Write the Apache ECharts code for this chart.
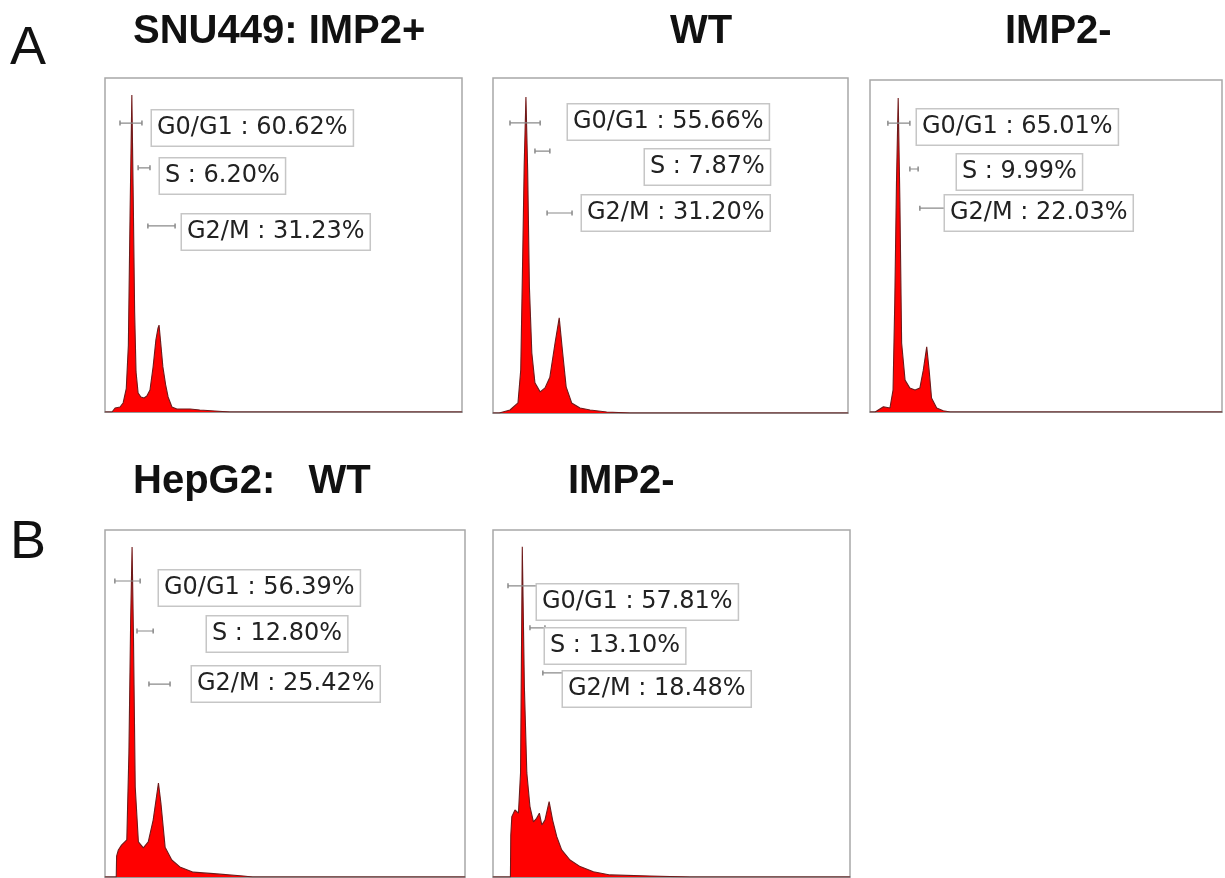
<!DOCTYPE html>
<html>
<head>
<meta charset="utf-8">
<script src="https://cdn.jsdelivr.net/npm/echarts@6/dist/echarts.min.js"></script>
<style>
  html, body { margin: 0; padding: 0; background: #fff; }
  #chart { width: 1225px; height: 878px; }
</style>
</head>
<body>
<div id="chart"></div>
<script>
// DNA content histograms: [channel, events]
const snuPlusHist = [[0,0],[20,0],[29,12],[43,15],[52,27],[61,70],[67,200],[72,600],[77,949],[81,640],[85,300],[89,120],[95,57],[103,45],[112,42],[120,48],[129,66],[138,135],[146,216],[152,251],[155,260],[159,216],[166,135],[174,81],[181,45],[192,15],[206,9],[244,9],[272,6],[315,3],[358,0],[1024,0]];
const snuWTHist = [[0,0],[18,0],[20,3],[49,9],[72,30],[80,128],[85,427],[90,740],[95,943],[100,725],[105,376],[112,179],[121,90],[136,63],[150,75],[164,107],[179,209],[191,284],[201,179],[211,78],[227,30],[251,15],[280,9],[328,3],[395,0],[1024,0]];
const snuMinusHist = [[0,0],[15,0],[19,6],[39,16],[58,12],[67,66],[72,328],[77,690],[82,946],[87,630],[92,208],[102,96],[116,72],[131,66],[145,72],[155,126],[165,196],[172,126],[179,42],[194,12],[213,4],[233,0],[1024,0]];
const hepWTHist = [[0,0],[32,0],[33,60],[38,78],[47,92],[62,107],[68,357],[73,741],[77,951],[81,692],[86,259],[95,101],[109,84],[123,101],[137,164],[152,271],[159,213],[171,86],[190,49],[213,29],[251,14],[318,9],[393,3],[420,0],[1024,0]];
const hepMinusHist = [[0,0],[50,0],[51,120],[54,174],[63,193],[73,184],[79,300],[84,952],[90,548],[97,300],[106,203],[116,159],[125,169],[133,184],[140,150],[149,164],[161,217],[171,164],[183,116],[197,78],[221,49],[250,30],[288,15],[336,6],[450,3],[565,0],[1024,0]];

// Cell-cycle gates: [from channel, to channel, marker height]
const snuPlusGates  = [[43,106,865],[95,129,731],[123,201,557]];
const snuWTGates    = [[49,136,866],[121,164,782],[156,228,597]];
const snuMinusGates = [[52,116,870],[116,140,732],[145,218,614]];
const hepWTGates    = [[28,100,853],[91,137,709],[125,185,556]];
const hepMinusGates = [[43,126,839],[106,149,718],[143,201,588]];

// Phase fractions (%): G0/G1, S, G2/M
const snuPlusPct  = [60.62, 6.20, 31.23];
const snuWTPct    = [55.66, 7.87, 31.20];
const snuMinusPct = [65.01, 9.99, 22.03];
const hepWTPct    = [56.39, 12.80, 25.42];
const hepMinusPct = [57.81, 13.10, 18.48];

const phaseNames = ['G0/G1', 'S', 'G2/M'];
const panelTitles = ['SNU449: IMP2+', 'WT', 'IMP2-', 'HepG2:   WT', 'IMP2-'];

// panel frames (left, top, width, height) and label anchors [x, centreY] per phase
const panels = [
  { hist: snuPlusHist,  gates: snuPlusGates,  pct: snuPlusPct,  box: [105, 78, 357, 334], labels: [[152,128],[160,176],[182,232]] },
  { hist: snuWTHist,    gates: snuWTGates,    pct: snuWTPct,    box: [493, 78, 355, 335], labels: [[568,122],[645,167],[582,213]] },
  { hist: snuMinusHist, gates: snuMinusGates, pct: snuMinusPct, box: [870, 80, 352, 332], labels: [[917,127],[957,172],[945,213]] },
  { hist: hepWTHist,    gates: hepWTGates,    pct: hepWTPct,    box: [105, 530, 360, 347], labels: [[159,588],[207,634],[192,684]] },
  { hist: hepMinusHist, gates: hepMinusGates, pct: hepMinusPct, box: [493, 530, 357, 347], labels: [[537,602],[545,646],[563,689]] }
];

const titlePos = [[133, 32, 'left'], [701, 32, 'center'], [1005, 32, 'left'], [133, 482, 'left'], [568, 482, 'left']];

const grid = [], xAxis = [], yAxis = [], series = [], graphic = [];
const titleFont = 'bold 40px "Liberation Sans", Arial, sans-serif';
const labelFont = '24px "DejaVu Sans", sans-serif';

panels.forEach((p, i) => {
  const [l, t, w, h] = p.box;
  grid.push({ left: l, top: t, width: w, height: h, show: true, borderColor: '#a8a8a8', borderWidth: 1.5, backgroundColor: '#fff' });
  xAxis.push({ gridIndex: i, type: 'value', min: 0, max: 1024, show: true,
    axisLine: { show: true, lineStyle: { color: '#8c8c8c', width: 1.5 } },
    axisTick: { show: false }, axisLabel: { show: false }, splitLine: { show: false } });
  yAxis.push({ gridIndex: i, type: 'value', min: 0, max: 1000, show: false });
  series.push({
    type: 'line', xAxisIndex: i, yAxisIndex: i, data: p.hist,
    showSymbol: false, silent: true, z: 3,
    lineStyle: { color: '#6e1a1a', width: 1.1 },
    areaStyle: { color: '#ff0000', opacity: 1 }
  });
  p.gates.forEach(g => {
    series.push({
      type: 'line', xAxisIndex: i, yAxisIndex: i, silent: true, z: 4,
      data: [[g[0], g[2]], [g[1], g[2]]],
      symbol: 'rect', symbolSize: [1.5, 5], showSymbol: true,
      itemStyle: { color: '#8a8a8a' },
      lineStyle: { color: '#8a8a8a', width: 1.2 }
    });
  });
  p.labels.forEach((a, k) => {
    graphic.push({
      type: 'text', x: a[0], y: a[1], z: 10,
      style: {
        text: phaseNames[k] + ' : ' + p.pct[k].toFixed(2) + '%',
        font: labelFont, fill: '#222', verticalAlign: 'middle', align: 'left',
        backgroundColor: '#fff', borderColor: '#c6c6c6', borderWidth: 1.5,
        padding: [6, 5, 5, 5]
      }
    });
  });
  graphic.push({
    type: 'text', x: titlePos[i][0], y: titlePos[i][1],
    style: { text: panelTitles[i], font: titleFont, fill: '#111', align: titlePos[i][2], verticalAlign: 'middle' }
  });
});

graphic.push({ type: 'text', x: 10, y: 49, style: { text: 'A', font: '54px "Liberation Sans", Arial, sans-serif', fill: '#111', verticalAlign: 'middle' } });
graphic.push({ type: 'text', x: 10, y: 543, style: { text: 'B', font: '54px "Liberation Sans", Arial, sans-serif', fill: '#111', verticalAlign: 'middle' } });

const chart = echarts.init(document.getElementById('chart'), null, { renderer: 'canvas' });
chart.setOption({
  animation: false,
  backgroundColor: '#fff',
  grid, xAxis, yAxis, series, graphic
});
</script>
</body>
</html>
